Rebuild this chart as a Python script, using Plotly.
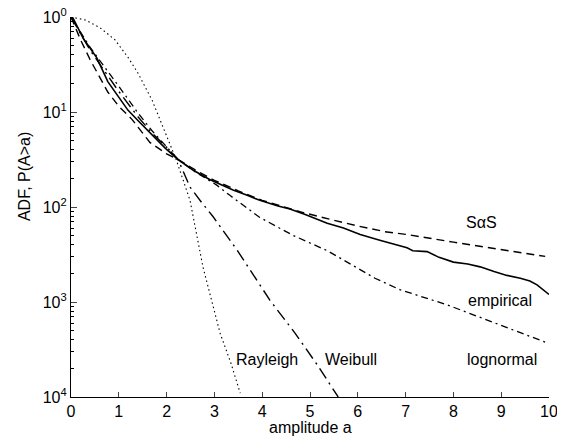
import plotly.graph_objects as go

# amplitude a and log10 P(A>a)
emp_a = [0.0, 0.04, 0.25, 0.54, 0.77, 1.0, 1.19, 1.4, 1.59, 1.97, 2.24, 2.55, 2.9, 3.39, 3.7, 3.95, 4.33, 4.58, 4.9, 5.36, 5.7, 6.05, 6.46, 6.75, 7.03, 7.15, 7.45, 7.7, 8.0, 8.3, 8.56, 8.85, 9.12, 9.4, 9.6, 9.75, 9.9, 10.0]
emp_l = [0.0, -0.01, -0.22, -0.43, -0.68, -0.85, -0.98, -1.09, -1.19, -1.38, -1.5, -1.61, -1.71, -1.82, -1.88, -1.93, -1.99, -2.02, -2.08, -2.17, -2.22, -2.29, -2.35, -2.39, -2.43, -2.46, -2.47, -2.53, -2.58, -2.6, -2.63, -2.68, -2.72, -2.75, -2.78, -2.82, -2.88, -2.92]

sas_a = [0.0, 0.2, 0.4, 0.77, 1.0, 1.28, 1.65, 2.0, 2.24, 2.6, 3.0, 3.5, 4.0, 4.79, 5.5, 6.0, 6.57, 7.03, 8.0, 9.0, 9.92]
sas_l = [0.0, -0.24, -0.45, -0.79, -0.94, -1.08, -1.32, -1.44, -1.5, -1.61, -1.72, -1.83, -1.93, -2.05, -2.14, -2.2, -2.26, -2.29, -2.37, -2.45, -2.52]

logn_a = [0.0, 0.2, 0.4, 1.0, 1.4, 1.7, 2.0, 2.24, 2.6, 3.05, 3.33, 3.95, 4.65, 5.36, 6.36, 6.88, 7.87, 8.91, 9.96]
logn_l = [0.0, -0.16, -0.32, -0.73, -1.01, -1.2, -1.37, -1.5, -1.63, -1.77, -1.88, -2.11, -2.3, -2.46, -2.75, -2.87, -3.03, -3.23, -3.43]

weib_a = [0.0, 0.2, 0.4, 0.98, 1.4, 1.69, 2.0, 2.24, 2.49, 2.73, 2.97, 3.47, 4.16, 4.69, 5.15, 5.59]
weib_l = [0.0, -0.17, -0.35, -0.77, -1.05, -1.22, -1.37, -1.5, -1.79, -1.95, -2.1, -2.45, -2.98, -3.33, -3.66, -4.0]

ray_a = [0.0, 0.29, 0.6, 0.92, 1.2, 1.4, 1.7, 1.97, 2.2, 2.49, 2.76, 3.12, 3.35, 3.54]
ray_l = [0.0, -0.03, -0.11, -0.24, -0.43, -0.59, -0.88, -1.22, -1.5, -1.93, -2.63, -3.33, -3.65, -3.96]

ytick_vals = [1, 0.1, 0.01, 0.001, 0.0001]
ytick_text = ["10<sup>0</sup>", "10<sup>1</sup>", "10<sup>2</sup>", "10<sup>3</sup>", "10<sup>4</sup>"]
xtick_vals = list(range(0, 11))

labels = ["S\u03b1S", "empirical", "lognormal", "Rayleigh", "Weibull"]
label_x = [8.59, 8.97, 9.01, 4.1, 5.86]
label_y = [-2.16, -2.98, -3.6, -3.6, -3.6]

def p(l):
    return [10 ** v for v in l]

fig = go.Figure()
fig.add_trace(go.Scatter(x=ray_a, y=p(ray_l), mode="lines", line=dict(color="black", width=1.1, dash="1.5px,3px")))
fig.add_trace(go.Scatter(x=weib_a, y=p(weib_l), mode="lines", line=dict(color="black", width=1.4, dash="12px,5px,2px,5px")))
fig.add_trace(go.Scatter(x=logn_a, y=p(logn_l), mode="lines", line=dict(color="black", width=1.3, dash="7px,4px,2px,4px")))
fig.add_trace(go.Scatter(x=sas_a, y=p(sas_l), mode="lines", line=dict(color="black", width=1.4, dash="8px,5px")))
fig.add_trace(go.Scatter(x=emp_a, y=p(emp_l), mode="lines", line=dict(color="black", width=1.6)))

for t, x, y in zip(labels, label_x, label_y):
    fig.add_annotation(x=x, y=y, xref="x", yref="y", text=t, showarrow=False,
                       font=dict(size=16, color="black"))

fig.add_annotation(x=-0.096, y=0.579, xref="paper", yref="paper", text="ADF, P(A>a)",
                   xanchor="center", yanchor="middle",
                   textangle=-90, showarrow=False, font=dict(size=16, color="black"))
fig.add_annotation(x=0.5, y=-0.08, xref="paper", yref="paper", text="amplitude a",
                   xanchor="center", yanchor="middle", showarrow=False,
                   font=dict(size=16, color="black"))

minor_vals = [m * 10.0 ** e for e in range(-4, 0) for m in range(2, 10)]

# page body has an 8px default margin, so the figure is sized to fill the rest
fig.update_layout(
    width=557, height=428,
    margin=dict(l=63, r=16, t=9, b=39),
    paper_bgcolor="white", plot_bgcolor="white",
    showlegend=False,
    font=dict(family="Liberation Sans, Arial, sans-serif", size=16, color="black"),
    xaxis=dict(range=[0, 10], tickvals=xtick_vals, ticks="inside", ticklen=5, automargin=False,
               showgrid=False, zeroline=False, showline=True, linecolor="black", linewidth=1.2,
               tickfont=dict(size=16), ticklabeloverflow="allow"),
    yaxis=dict(type="log", range=[-4, 0], tickvals=ytick_vals, ticktext=ytick_text, ticks="inside",
               ticklen=6, showgrid=False, zeroline=False, showline=True, linecolor="black", linewidth=1.2,
               tickfont=dict(size=16), automargin=False, ticklabeloverflow="allow",
               minor=dict(tickvals=minor_vals, ticks="inside", ticklen=3, tickcolor="black", showgrid=False)),
)

fig.write_html("out.html")
